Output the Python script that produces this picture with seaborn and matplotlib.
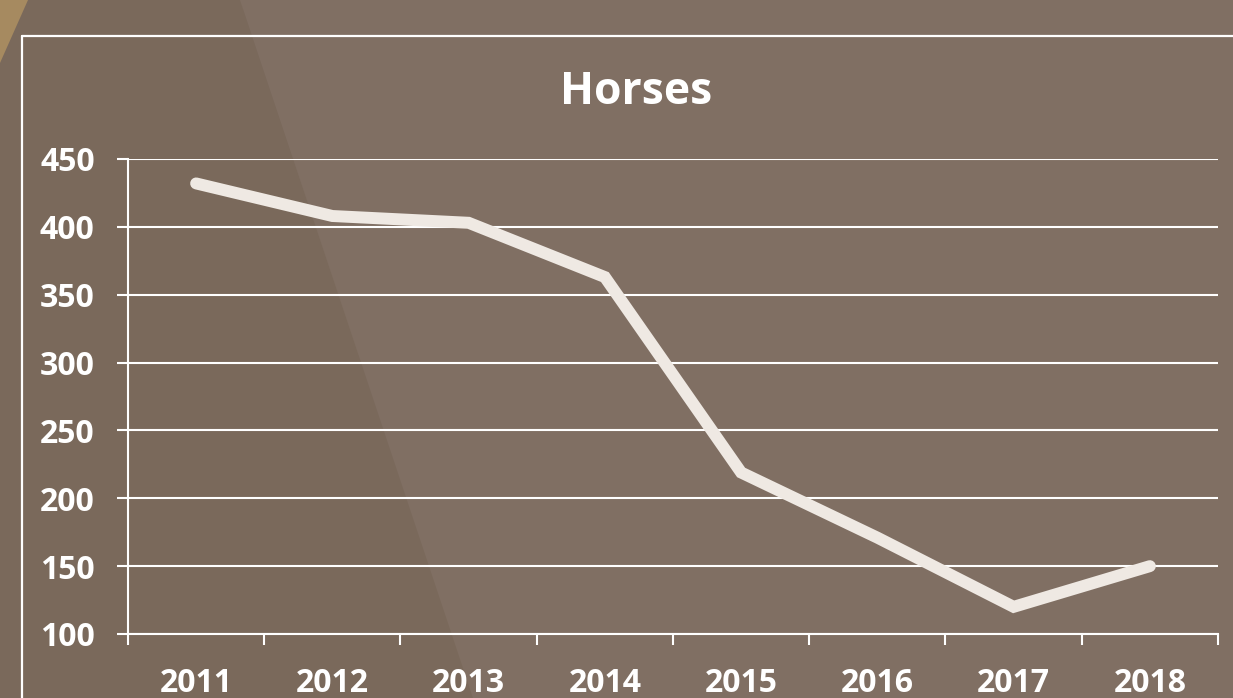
import matplotlib
matplotlib.use("Agg")
import matplotlib.pyplot as plt
import seaborn as sns
import pandas as pd
from matplotlib.patches import Polygon
from matplotlib.lines import Line2D
from matplotlib.ticker import FixedLocator

years = ["2011", "2012", "2013", "2014", "2015", "2016", "2017", "2018"]
horses = [432, 408, 403, 363, 219, 171, 120, 150]
y_ticks = [100, 150, 200, 250, 300, 350, 400, 450]
title = "Horses"

W, H = 1233, 698
BG = "#7A695B"
BG2 = "#806F63"
GOLD = "#A68A60"
LINE = "#EFE9E3"
WHITE = "#FFFFFF"

sns.set_theme(style="white")
plt.rcParams['font.family'] = ['Open Sans', 'DejaVu Sans']

fig = plt.figure(figsize=(W / 100, H / 100), dpi=100, facecolor=BG)

def px(x, y):
    return (x / W, 1 - y / H)

# background decorations
fig.patches.append(Polygon([px(240, 0), px(W, 0), px(W, H), px(473, H)],
                           closed=True, transform=fig.transFigure,
                           facecolor=BG2, edgecolor="none", zorder=-10))
fig.patches.append(Polygon([px(0, 0), px(28, 0), px(0, 63)],
                           closed=True, transform=fig.transFigure,
                           facecolor=GOLD, edgecolor="none", zorder=-10))
# outer frame
fig.lines.append(Line2D([22 / W, 1.0], [1 - 36 / H, 1 - 36 / H],
                        transform=fig.transFigure, color=WHITE, lw=1.6, zorder=-5))
fig.lines.append(Line2D([22 / W, 22 / W], [1 - 36 / H, 0],
                        transform=fig.transFigure, color=WHITE, lw=1.6, zorder=-5))

left, right, top, bottom = 128, 1218, 159, 634
ax = fig.add_axes([left / W, 1 - bottom / H, (right - left) / W, (bottom - top) / H])
ax.set_facecolor("none")
ax.set_zorder(1)

df = pd.DataFrame({"pos": list(range(len(years))), "value": horses})
sns.lineplot(data=df, x="pos", y="value", ax=ax, color=LINE, linewidth=8.6,
             solid_capstyle="round", solid_joinstyle="miter", zorder=5)

ax.set_xlim(-0.5, len(years) - 0.5)
ax.set_ylim(100, 450)
ax.set_yticks(y_ticks)
ax.set_yticklabels([str(v) for v in y_ticks])
ax.set_xticks(range(len(years)))
ax.set_xticklabels(years)
ax.xaxis.set_minor_locator(FixedLocator([i - 0.5 for i in range(len(years) + 1)]))

ax.grid(axis="y", color=WHITE, linewidth=1.5)
ax.set_axisbelow(True)
for s in ["top", "right"]:
    ax.spines[s].set_visible(False)
for s in ["left", "bottom"]:
    ax.spines[s].set_color(WHITE)
    ax.spines[s].set_linewidth(1.5)

ax.tick_params(axis="y", which="major", length=8, width=1.5, color=WHITE,
               direction="out", pad=16, labelsize=23, labelcolor=WHITE, left=True)
ax.tick_params(axis="x", which="major", length=0, pad=24, labelsize=23,
               labelcolor=WHITE, bottom=True)
ax.tick_params(axis="x", which="minor", length=8, width=1.5, color=WHITE,
               direction="out", bottom=True)
for lab in ax.get_xticklabels() + ax.get_yticklabels():
    lab.set_fontweight("bold")
ax.set_xlabel("")
ax.set_ylabel("")

fig.text(636 / W, 1 - 92 / H, title, ha="center", va="center",
         fontsize=32, fontweight="bold", color=WHITE)

fig.savefig("out.png", dpi=100, facecolor=BG)
